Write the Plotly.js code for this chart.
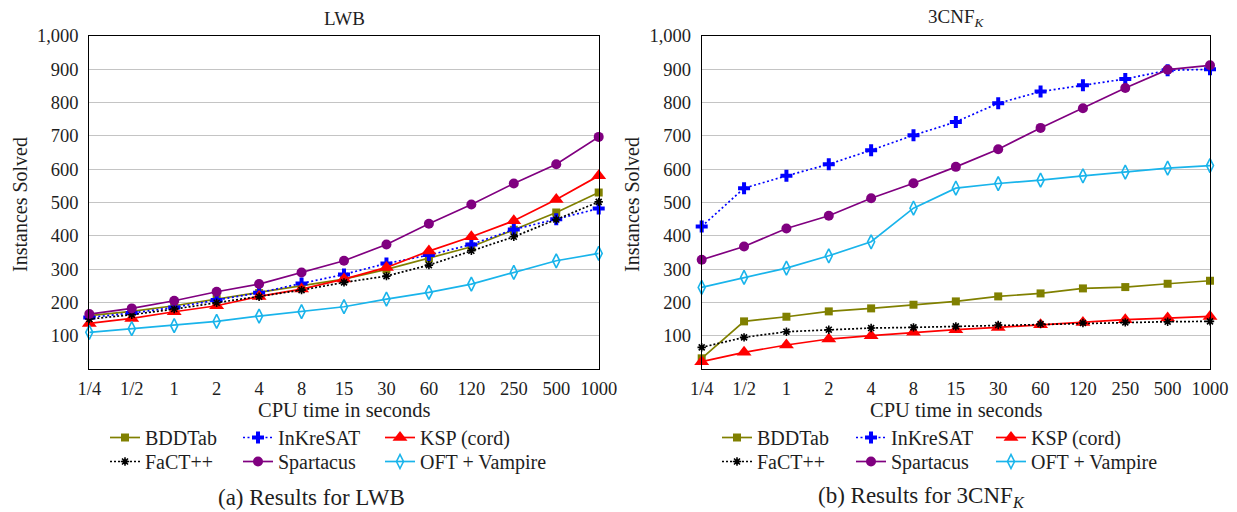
<!DOCTYPE html>
<html>
<head>
<meta charset="utf-8">
<script src="https://cdn.plot.ly/plotly-3.0.1.min.js"></script>
<style>html,body{margin:0;padding:0;background:#fff;}#chart{width:1237px;height:512px;}</style>
</head>
<body>
<div id="chart"></div>
<script>
// ---- data ----
const times = ["1/4","1/2","1","2","4","8","15","30","60","120","250","500","1000"];
const solvers = ["BDDTab","InKreSAT","KSP (cord)","FaCT++","Spartacus","OFT + Vampire"];

// LWB
const lwbBDDTab    = [160,173,190,210,228,248,270,299,332,367,418,470,530];
const lwbInKreSAT  = [155,168,185,207,229,257,284,317,342,374,419,450,482];
const lwbKSP       = [137,152,172,190,218,240,270,305,354,397,445,509,580];
const lwbFaCT      = [150,163,180,199,217,237,260,279,312,355,397,449,502];
const lwbSpartacus = [165,182,205,232,255,290,325,374,436,494,557,615,697];
const lwbOFT       = [110,121,130,143,159,172,187,210,230,255,290,325,347];

// 3CNF_K
const cnfBDDTab    = [32,143,157,173,182,193,203,218,227,242,246,256,265];
const cnfInKreSAT  = [428,543,580,615,657,702,742,798,833,852,871,897,900];
const cnfKSP       = [22,50,72,90,100,110,118,125,133,140,148,153,158];
const cnfFaCT      = [65,95,112,118,123,125,128,132,135,138,140,142,143];
const cnfSpartacus = [328,368,422,460,513,558,607,660,724,783,844,899,912];
const cnfOFT       = [245,275,303,340,382,483,543,557,567,580,591,603,611];

const yTicks = [100,200,300,400,500,600,700,800,900,1000];

// ---- styles ----
const FONT = "Liberation Serif, Times New Roman, serif";
const TXT = "#1e1e1e";
const styles = [
  {color:"rgb(128,128,0)", dash:"solid", symbol:"square", size:8},
  {color:"rgb(0,0,255)", dash:"2px,2.5px", symbol:"cross", size:10},
  {color:"rgb(255,0,0)", dash:"solid", symbol:"triangle-up", size:13},
  {color:"rgb(0,0,0)", dash:"2px,2px", symbol:"asterisk-open", size:7},
  {color:"rgb(128,0,128)", dash:"solid", symbol:"circle", size:10},
  {color:"rgb(25,180,235)", dash:"solid", symbol:"diamond-tall-open", size:10}
];

function legName(n) { return n === 1 ? "legend" : "legend" + n; }

function mk(name, y, idx, xa, ya, leg) {
  const s = styles[idx];
  const open = s.symbol.indexOf("open") >= 0;
  return {
    type:"scatter", mode:"lines+markers", name:name, x:times, y:y,
    xaxis:xa, yaxis:ya, legend:leg, cliponaxis:false,
    line:{color:s.color, width:1.7, dash:s.dash},
    marker:{symbol:s.symbol, size:s.size, color:s.color,
            line:{color:s.color, width: open ? 1.6 : 0}}
  };
}

const lwb = [lwbBDDTab,lwbInKreSAT,lwbKSP,lwbFaCT,lwbSpartacus,lwbOFT];
const cnf = [cnfBDDTab,cnfInKreSAT,cnfKSP,cnfFaCT,cnfSpartacus,cnfOFT];
const traces = [];
lwb.forEach((y,i)=>traces.push(mk(solvers[i], y, i, "x","y", legName(i+1))));
cnf.forEach((y,i)=>traces.push(mk(solvers[i], y, i, "x2","y2", legName(i+7))));

const W = 1237, H = 512;
const px = v => v / W;
const py = v => 1 - v / H;

function xax(domain) {
  return {domain:domain, type:"category", categoryorder:"array", categoryarray:times,
    range:[0,12], showgrid:false, zeroline:false, showline:true, mirror:true,
    linecolor:"#000", linewidth:1, ticks:"", ticklabelstandoff:3,
    tickfont:{family:FONT, size:18.5, color:TXT}, fixedrange:true};
}
function yax(anchor) {
  return {domain:[py(369), py(36)], anchor:anchor, range:[0,1000], tickvals:yTicks,
    tickformat:",d", showgrid:true, gridcolor:"#c4c4c4", gridwidth:1, zeroline:false,
    showline:true, mirror:true, linecolor:"#000", linewidth:1, ticks:"", ticklabelstandoff:6,
    tickfont:{family:FONT, size:18.5, color:TXT}, fixedrange:true};
}

function legendCfg(x, y) {
  return {x:px(x), y:py(y), xanchor:"left", yanchor:"top", orientation:"h",
    bgcolor:"rgba(0,0,0,0)", borderwidth:0,
    font:{family:FONT, size:20, color:TXT}, itemwidth:30};
}

const layout = {
  width:W, height:H, margin:{l:0,r:0,t:0,b:0},
  font:{family:FONT, color:TXT},
  paper_bgcolor:"#fff", plot_bgcolor:"#fff",
  xaxis: Object.assign(xax([px(89.3), px(598.7)]), {anchor:"y"}),
  yaxis: yax("x"),
  xaxis2: Object.assign(xax([px(701.7), px(1210)]), {anchor:"y2"}),
  yaxis2: yax("x2"),
  showlegend:true
};

// legend entry positions: left edges of text (px) per chart, rows
const colTextL = [147, 280, 422];
const colTextR = [759, 893, 1033];
const rowTop = [418, 442];
for (let i = 0; i < 6; i++) {
  const col = i % 3, row = Math.floor(i / 3);
  layout[legName(i+1)] = legendCfg(colTextL[col] - 42, rowTop[row]);
  layout[legName(i+7)] = legendCfg(colTextR[col] - 42, rowTop[row]);
}

const ann = (text, x, y, size, angle) => ({text:text, x:px(x), y:py(y), xref:"paper", yref:"paper",
  xanchor:"center", yanchor:"middle", showarrow:false, textangle:angle||0,
  font:{family:FONT, size:size, color:TXT}});

layout.annotations = [
  ann("LWB", 344, 18, 19),
  ann("3CNF<sub><i>K</i></sub>", 956, 18, 19),
  ann("CPU time in seconds", 344, 410, 20.5),
  ann("CPU time in seconds", 956, 410, 20.5),
  ann("Instances Solved", 20, 205, 20, -90),
  ann("Instances Solved", 632, 205, 20, -90),
  ann("(a) Results for LWB", 311, 497, 23),
  ann("(b) Results for 3CNF<sub><i>K</i></sub>", 921, 497, 23)
];

Plotly.newPlot("chart", traces, layout, {staticPlot:true, displayModeBar:false});
</script>
</body>
</html>
